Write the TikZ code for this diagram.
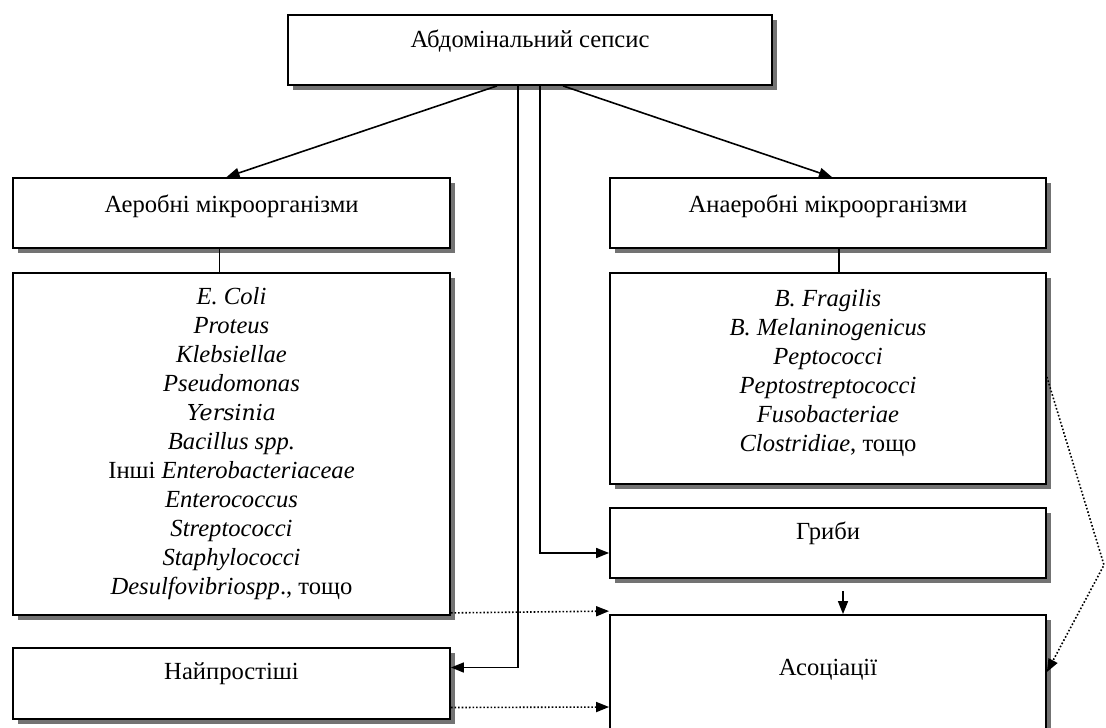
\documentclass[tikz,border=0pt]{standalone}
\usepackage{fontspec}
\setmainfont{Liberation Serif}
\newfontfamily\yersfont{DejaVu Serif}
\usepackage{tikz}
\usetikzlibrary{arrows.meta,positioning,shadows,calc}

\begin{document}
\begin{tikzpicture}[x=0.5pt,y=-0.5pt,
  box/.style={draw=black,line width=0.9pt,fill=white,
    drop shadow={shadow xshift=2.5pt,shadow yshift=-2.5pt,fill=black!55,opacity=1},
    inner sep=0pt,align=center,font=\fontsize{12.3}{14.5}\selectfont,
    text height=8pt,text depth=#1},
  box/.default=8pt,
  listbox/.style={draw=black,line width=0.9pt,fill=white,
    drop shadow={shadow xshift=2.5pt,shadow yshift=-2.5pt,fill=black!55,opacity=1},
    inner sep=0pt,align=center,font=\fontsize{12.3}{14.5}\selectfont},
  link/.style={line width=0.8pt,-{Triangle[length=6.5pt,width=5pt]}},
  dotlink/.style={link,densely dotted}]
\clip (0,0) rectangle (1106,727);

\node[box=10.4pt,minimum width=242pt,minimum height=35pt] (sepsis) at (530,50) {Абдомінальний сепсис};
\node[box=8.4pt,minimum width=218.5pt,minimum height=35pt] (aerob) at (231.5,213) {Аеробні мікроорганізми};
\node[box=8.4pt,minimum width=218pt,minimum height=35pt] (anaerob) at (828,213) {Анаеробні мікроорганізми};

% Lists of species
\node[listbox,minimum width=218.5pt,minimum height=171pt] (aerlist) at (231.5,444) {%
  \textit{E. Coli}\\ \textit{Proteus}\\ \textit{Klebsiellae}\\ \textit{Pseudomonas}\\
  {\yersfont\itshape\fontsize{11}{14.5}\selectfont Yersinia}\\ \textit{Bacillus spp.}\\
  Інші \textit{Enterobacteriaceae}\\ \textit{Enterococcus}\\ \textit{Streptococci}\\
  \textit{Staphylococci}\\ \textit{Desulfovibriospp}., тощо};
\node[listbox,minimum width=218pt,minimum height=105.5pt] (analist) at (828,378.5) {%
  \textit{B. Fragilis}\\ \textit{B. Melaninogenicus}\\ \textit{Peptococci}\\
  \textit{Peptostreptococci}\\ \textit{Fusobacteriae}\\ \textit{Clostridiae}, тощо\\[-6pt]};

\node[box=11.4pt,minimum width=218pt,minimum height=35pt] (hryby) at (828,543) {Гриби};
\node[box=9.9pt,minimum width=218pt,minimum height=62.5pt] (asoc) at (828,677.5) {Асоціації};
\node[box=11.9pt,minimum width=218.5pt,minimum height=35.5pt] (najpr) at (231.5,683.5) {Найпростіші};

% Arrows from the top box
\draw[link] ($(sepsis.south)+(-33,0)$) -- ($(aerob.north)+(-5,0)$);
\draw[link] ($(sepsis.south)+(33,0)$) -- ($(anaerob.north)+(4,0)$);
\draw[line width=0.8pt] ($(aerob.south)+(-12,0)$) -- ($(aerlist.north)+(-12,0)$);
\draw[line width=0.8pt] ($(anaerob.south)+(11,0)$) -- ($(analist.north)+(11,0)$);
\draw[link] ($(sepsis.south)+(-12,0)$) |- ($(najpr.east)+(0,-16)$);
\draw[link] ($(sepsis.south)+(10,0)$) |- ($(hryby.west)+(0,10)$);
\draw[link] ($(hryby.south)+(15,12)$) -- ($(asoc.north)+(15,0)$);

% Dotted links to the associations
\draw[dotlink] ($(aerlist.south east)+(0,-3)$) -- ($(asoc.north west)+(0,-3)$);
\draw[dotlink] ($(najpr.east)+(0,24)$) -- ($(asoc.west)+(0,29.5)$);
\coordinate (turn) at (1104,565);
\draw[dotlink] ($(analist.east)+(0,-1.5)$) -- (turn) -- ($(asoc.east)+(0,-5.5)$);
\end{tikzpicture}
\end{document}
